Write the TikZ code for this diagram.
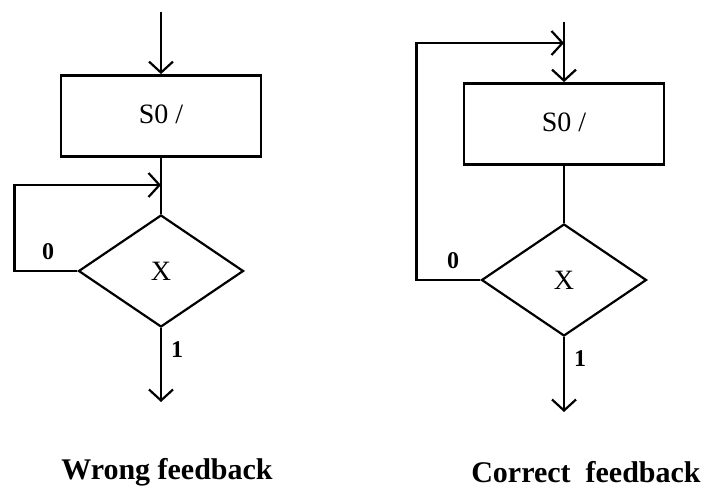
\documentclass[tikz,border=0pt]{standalone}
\usepackage{fontspec}
\setmainfont{Liberation Serif}
\usetikzlibrary{arrows.meta,shapes.geometric}

\begin{document}
\begin{tikzpicture}[x=1pt,y=-1pt,
    line width=2.8pt,
    flow/.style={-{Straight Barb[length=11pt,width=24pt,line width=2.2pt]}},
    stateblock/.style={draw, rectangle, minimum width=200pt, minimum height=81pt,
      inner sep=0pt, font=\fontsize{28}{32}\selectfont},
    decision/.style={draw, diamond, line width=2.2pt, minimum width=165pt,
      minimum height=112pt, inner sep=0pt, font=\fontsize{28}{32}\selectfont},
    branch/.style={font=\fontsize{24}{28}\selectfont\bfseries},
    caption/.style={font=\fontsize{30}{34}\selectfont\bfseries}]
  \useasboundingbox (0,0) rectangle (706,489);

  % wrong feedback
  \coordinate (lin) at (161,12);
  \node[stateblock] (lbox) at (161,116) {\raisebox{4pt}{S0 /}};
  \node[decision] (ldia) at (161,271) {X};
  \coordinate (ljoin) at (161,185);
  \coordinate (lout) at (161,402);
  \draw[flow] (lin) -- (lbox.north);
  \draw (lbox.south) -- (ldia.north);
  \draw[flow] (ldia.west) -- ++(-63,0) |- (ljoin);
  \draw[flow] (ldia.south) -- (lout);
  \node[branch] (lzero) at (48,252) {0};
  \node[branch] (lone) at (177,350) {1};
  \node[caption] (lcap) at (167,472) {Wrong feedback};

  % correct feedback
  \coordinate (rin) at (564,22);
  \node[stateblock] (rbox) at (564,124) {\raisebox{4pt}{S0 /}};
  \node[decision] (rdia) at (564,280) {X};
  \coordinate (rjoin) at (564,43);
  \coordinate (rout) at (564,412);
  \draw[flow] (rin) -- (rbox.north);
  \draw (rbox.south) -- (rdia.north);
  \draw[flow] (rdia.west) -- ++(-64,0) |- (rjoin);
  \draw[flow] (rdia.south) -- (rout);
  \node[branch] (rzero) at (453,261) {0};
  \node[branch] (rone) at (580,359) {1};
  \node[caption] (rcap) at (586,472) {Correct\ \ feedback};
\end{tikzpicture}
\end{document}
